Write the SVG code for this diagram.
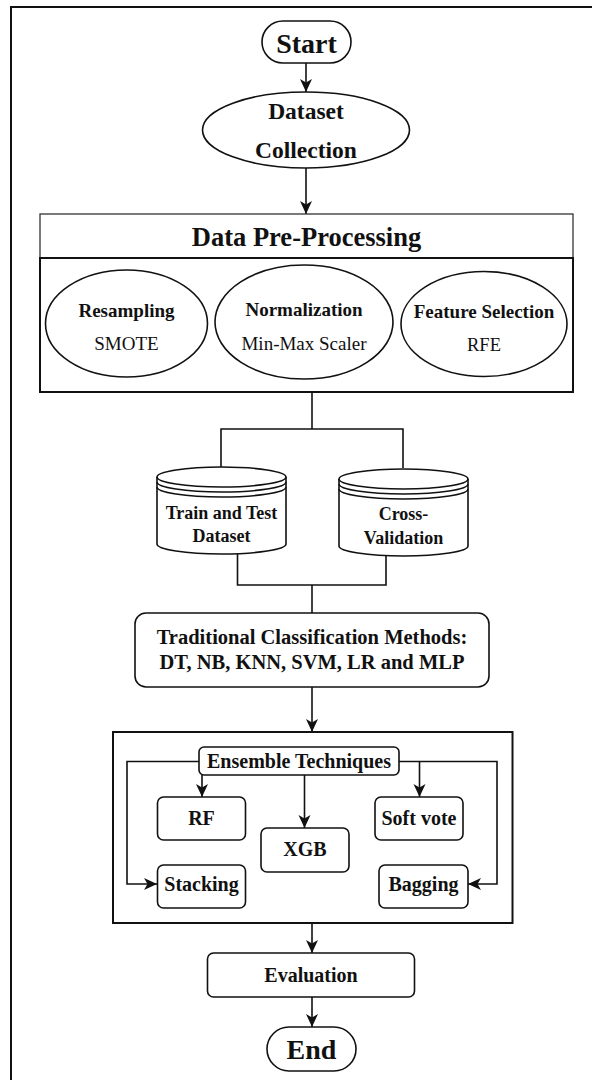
<svg xmlns="http://www.w3.org/2000/svg" width="592" height="1080" viewBox="0 0 592 1080" font-family="'Liberation Serif', 'DejaVu Serif', serif">
<style>
  .s { fill: #fff; stroke: #111; stroke-width: 1.6; }
  .c { fill: none; stroke: #111; stroke-width: 1.6; }
  .ca { fill: none; stroke: #111; stroke-width: 1.6; marker-end: url(#ah); }
  text { font-family: 'Liberation Serif', 'DejaVu Serif', serif; fill: #111; text-anchor: middle; dominant-baseline: central; }
  .b { font-weight: bold; }
</style>
<defs>
  <marker id="ah" markerUnits="userSpaceOnUse" markerWidth="14" markerHeight="14" viewBox="0 0 14 14" refX="13" refY="7" orient="auto">
    <path d="M0,1 L13,7 L0,13 L3.5,7 Z" fill="#111"/>
  </marker>
</defs>
<rect width="592" height="1080" fill="#fff"/>
<rect id="frame" x="11" y="7" width="600" height="1100" fill="none" stroke="#111" stroke-width="2"/>

<g id="connectors">
  <line class="ca" x1="306" y1="63" x2="306" y2="92"/>
  <line class="ca" x1="306" y1="168" x2="306" y2="214"/>
  <polyline class="c" points="312,392 312,429"/>
  <polyline class="c" points="221,467 221,429 403,429 403,468"/>
  <polyline class="c" points="237.5,554 237.5,585 386,585 386,556"/>
  <line class="c" x1="312" y1="585" x2="312" y2="613"/>
  <line class="ca" x1="312" y1="687" x2="312" y2="732"/>
  <polyline class="ca" points="199,761.5 127,761.5 127,884 157,884"/>
  <polyline class="ca" points="399,761.5 497,761.5 497,884 468,884"/>
  <line class="ca" x1="202" y1="775" x2="202" y2="797"/>
  <line class="ca" x1="304.5" y1="775" x2="304.5" y2="828"/>
  <line class="ca" x1="419.5" y1="761.5" x2="419.5" y2="797"/>
  <line class="ca" x1="312" y1="923" x2="312" y2="953"/>
  <line class="ca" x1="312" y1="997" x2="312" y2="1027"/>
</g>

<g id="start">
  <rect class="s" x="262" y="21" width="89" height="42" rx="21"/>
  <text class="b" x="306.5" y="43" font-size="28">Start</text>
</g>

<g id="dataset-collection">
  <ellipse class="s" cx="306" cy="130" rx="103.5" ry="38"/>
  <text class="b" x="306" y="111" font-size="23.5">Dataset</text>
  <text class="b" x="306" y="150" font-size="23.5">Collection</text>
</g>

<g id="data-preprocessing">
  <rect x="40" y="214" width="533" height="44" fill="#fff" stroke="#333" stroke-width="1.3"/>
  <text class="b" x="306.5" y="237" font-size="26.5">Data Pre-Processing</text>
  <rect x="40" y="258" width="533" height="134" fill="#fff" stroke="#111" stroke-width="2"/>
</g>

<g id="resampling">
  <ellipse class="s" cx="126.5" cy="323.5" rx="81" ry="53.5" stroke-width="1.2"/>
  <text class="b" x="126.5" y="310" font-size="19">Resampling</text>
  <text x="126.5" y="343" font-size="19">SMOTE</text>
</g>

<g id="normalization">
  <ellipse class="s" cx="304" cy="322" rx="89" ry="57" stroke-width="1.2"/>
  <text class="b" x="304" y="309" font-size="19">Normalization</text>
  <text x="304" y="343" font-size="19">Min-Max Scaler</text>
</g>

<g id="feature-selection">
  <ellipse class="s" cx="484" cy="324" rx="83" ry="52.5" stroke-width="1.2"/>
  <text class="b" x="484" y="311" font-size="19">Feature Selection</text>
  <text x="484" y="345" font-size="18.5">RFE</text>
</g>

<g id="train-test">
  <path class="s" d="M157,477 A64.5,10 0 0 1 286,477 V544 A64.5,10 0 0 1 157,544 Z"/>
  <path class="c" d="M157,477 A64.5,10 0 0 0 286,477 M157,482 A64.5,10 0 0 0 286,482 M157,487 A64.5,10 0 0 0 286,487"/>
  <text class="b" x="221.5" y="513" font-size="18">Train and Test</text>
  <text class="b" x="221.5" y="536" font-size="18">Dataset</text>
</g>

<g id="cross-validation">
  <path class="s" d="M339,479 A64.5,10 0 0 1 468,479 V546 A64.5,10 0 0 1 339,546 Z"/>
  <path class="c" d="M339,479 A64.5,10 0 0 0 468,479 M339,484 A64.5,10 0 0 0 468,484 M339,489 A64.5,10 0 0 0 468,489"/>
  <text class="b" x="403.5" y="514" font-size="18">Cross-</text>
  <text class="b" x="403.5" y="537.5" font-size="18">Validation</text>
</g>

<g id="traditional">
  <rect class="s" x="135" y="613" width="354" height="74" rx="11"/>
  <text class="b" x="312" y="637" font-size="20.5">Traditional Classification Methods:</text>
  <text class="b" x="312" y="662" font-size="20.5">DT, NB, KNN, SVM, LR and MLP</text>
</g>

<g id="ensemble-frame">
  <rect x="113" y="732" width="399.5" height="191" fill="none" stroke="#111" stroke-width="2"/>
</g>

<g id="ensemble-techniques">
  <rect class="s" x="199" y="747" width="200" height="28" rx="5"/>
  <text class="b" x="299" y="761" font-size="20">Ensemble Techniques</text>
</g>

<g id="rf">
  <rect class="s" x="157.5" y="797" width="88" height="43" rx="6"/>
  <text class="b" x="201.5" y="818" font-size="20">RF</text>
</g>

<g id="xgb">
  <rect class="s" x="261" y="828" width="88" height="44" rx="6"/>
  <text class="b" x="305" y="849" font-size="20">XGB</text>
</g>

<g id="soft-vote">
  <rect class="s" x="375" y="797" width="88" height="43" rx="6"/>
  <text class="b" x="419" y="818" font-size="20">Soft vote</text>
</g>

<g id="stacking">
  <rect class="s" x="157.5" y="865" width="88" height="43" rx="6"/>
  <text class="b" x="201.5" y="884" font-size="20">Stacking</text>
</g>

<g id="bagging">
  <rect class="s" x="379" y="865" width="89" height="43" rx="6"/>
  <text class="b" x="423.5" y="884" font-size="20">Bagging</text>
</g>

<g id="evaluation">
  <rect class="s" x="207.5" y="953" width="207" height="44" rx="6"/>
  <text class="b" x="311" y="975" font-size="20">Evaluation</text>
</g>

<g id="end">
  <rect class="s" x="267" y="1027" width="89" height="44" rx="22"/>
  <text class="b" x="311.5" y="1049" font-size="28">End</text>
</g>
</svg>
